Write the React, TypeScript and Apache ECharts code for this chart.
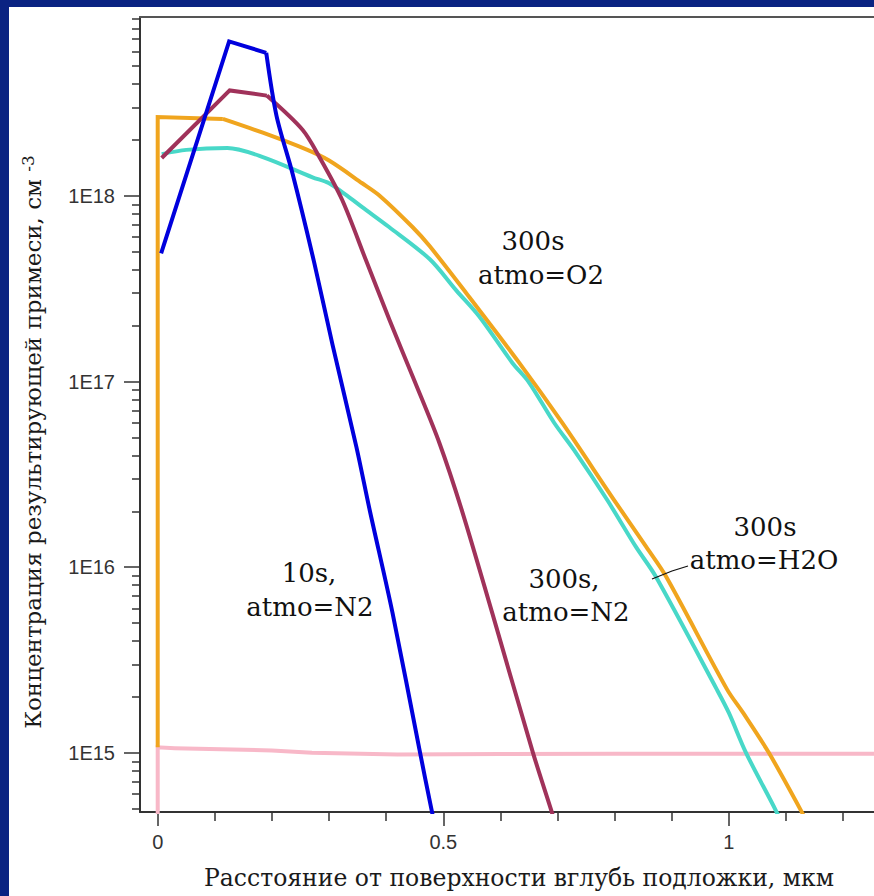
import React, { useEffect, useRef } from "react";
import * as echarts from "echarts";

// Axis ticks and labels
const xMinorTicks = [0.1, 0.2, 0.3, 0.4, 0.6, 0.7, 0.8, 0.9, 1.1, 1.2];
const xMajorTicks = [0, 0.5, 1];
const yMajorTicks = [1e15, 1e16, 1e17, 1e18];
const yMinorTicks = [
  5e14, 6e14, 7e14, 8e14, 9e14,
  2e15, 3e15, 4e15, 5e15, 6e15, 7e15, 8e15, 9e15,
  2e16, 3e16, 4e16, 5e16, 6e16, 7e16, 8e16, 9e16,
  2e17, 3e17, 4e17, 5e17, 6e17, 7e17, 8e17, 9e17,
  2e18, 3e18, 4e18, 5e18, 6e18, 7e18, 8e18, 9e18,
];

// 10s, atmo=N2 (blue); the first BLUE_HEAD points form a straight-segment peak
const blueX = [0.006, 0.125, 0.19, 0.208, 0.236, 0.274, 0.306, 0.348, 0.371, 0.411, 0.458, 0.479, 0.49];
const blueY = [4.9e17, 6.8e18, 5.9e18, 2.7e18, 1.32e18, 4.37e17, 1.58e17, 4.42e16, 2.04e16, 5.69e15, 1.05e15, 5.0e14, 3.5e14];
const BLUE_HEAD = 3;

// 300s, atmo=N2 (maroon)
const maroonX = [0.007, 0.126, 0.191, 0.2535, 0.283, 0.323, 0.365, 0.406, 0.45, 0.493, 0.533, 0.586, 0.657, 0.689, 0.7];
const maroonY = [1.6e18, 3.7e18, 3.47e18, 2.27e18, 1.62e18, 9.5e17, 4.47e17, 2.14e17, 1.0e17, 4.68e16, 2.0e16, 5.62e15, 1.0e15, 4.9e14, 3.8e14];
const MAROON_HEAD = 3;

// 300s, atmo=O2 (orange)
const orangeX = [0, 0, 0.114, 0.184, 0.26, 0.3, 0.358, 0.389, 0.446, 0.476, 0.54, 0.633, 0.708, 0.799, 0.855, 0.89, 0.997, 1.025, 1.07, 1.126, 1.14];
const orangeY = [1.07e15, 2.66e18, 2.6e18, 2.19e18, 1.78e18, 1.55e18, 1.17e18, 1.0e18, 6.8e17, 5.37e17, 3.0e17, 1.26e17, 6.0e16, 2.3e16, 1.29e16, 8.9e15, 2.19e15, 1.64e15, 1.0e15, 4.9e14, 4.0e14];
const ORANGE_HEAD = 3;

// 300s, atmo=H2O (cyan)
const cyanX = [0.007, 0.05, 0.122, 0.184, 0.271, 0.3, 0.332, 0.358, 0.405, 0.476, 0.523, 0.563, 0.621, 0.649, 0.694, 0.729, 0.787, 0.837, 0.872, 0.979, 1.0, 1.03, 1.082, 1.095];
const cyanY = [1.68e18, 1.77e18, 1.81e18, 1.62e18, 1.26e18, 1.17e18, 1.0e18, 8.7e17, 6.8e17, 4.57e17, 3.09e17, 2.24e17, 1.26e17, 1.0e17, 6.0e16, 4.27e16, 2.3e16, 1.29e16, 8.9e15, 2.19e15, 1.64e15, 1.0e15, 4.9e14, 4.0e14];

// substrate background (pink)
const pinkX = [0, 0, 0.03, 0.2, 0.27, 0.42, 0.6, 0.8, 1.3];
const pinkY = [1e14, 1.07e15, 1.06e15, 1.03e15, 1.0e15, 0.98e15, 0.985e15, 0.99e15, 0.99e15];

const zip = (xs: number[], ys: number[]) => xs.map((x, i) => [x, ys[i]]);

const SANS = "Liberation Sans";
const SERIF = "DejaVu Serif";

const X_MIN = -0.031;
const X_MAX = 1.254;
const Y_MIN = 4.8e14;
const Y_MAX = 9.2e18;

const AXIS_COLOR = "#333";

export default function App() {
  const ref = useRef<HTMLDivElement>(null);

  useEffect(() => {
    if (!ref.current) return;
    const chart = echarts.init(ref.current, null, { renderer: "svg" });

    const lineSeries = (name: string, data: number[][], color: string, smooth: boolean) => ({
      type: "line",
      name,
      data,
      xAxisIndex: 0,
      yAxisIndex: 0,
      symbol: "none",
      showSymbol: false,
      clip: true,
      smooth: smooth ? 0.3 : false,
      lineStyle: { color, width: 4, join: "miter" },
    });

    const split = (name: string, xs: number[], ys: number[], head: number, color: string) => {
      const pts = zip(xs, ys);
      return [
        lineSeries(name, pts.slice(0, head), color, false),
        lineSeries(name, pts.slice(head - 1), color, true),
      ];
    };

    const annot = (text: string, x: number, y: number) => ({
      type: "text",
      x,
      y,
      z: 100,
      style: {
        text,
        fill: "#111",
        fontSize: 26,
        fontFamily: SERIF,
        align: "center",
        verticalAlign: "middle",
      },
    });

    const option: any = {
      animation: false,
      backgroundColor: "#0a2382",
      grid: { left: 140, top: 17, right: 0, bottom: 84, containLabel: false },
      xAxis: [
        {
          type: "value",
          min: X_MIN,
          max: X_MAX,
          position: "bottom",
          name: "Расстояние от поверхности вглубь подложки, мкм",
          nameLocation: "middle",
          nameGap: 54,
          nameTextStyle: {
            fontFamily: SERIF,
            fontSize: 23.5,
            color: "#1a1a1a",
            padding: [0, 0, 0, 24],
          },
          axisLine: { show: true, onZero: false, lineStyle: { color: AXIS_COLOR, width: 2 } },
          axisTick: { show: true, customValues: xMinorTicks, length: 9, lineStyle: { color: AXIS_COLOR, width: 1.5 } },
          axisLabel: {
            customValues: xMajorTicks,
            formatter: (v: number) => String(v),
            fontFamily: SANS,
            fontSize: 20,
            color: AXIS_COLOR,
            margin: 20,
          },
          splitLine: { show: false },
        },
        {
          type: "value",
          min: X_MIN,
          max: X_MAX,
          position: "bottom",
          axisLine: { show: false, onZero: false },
          axisTick: { show: true, customValues: xMajorTicks, length: 14, lineStyle: { color: AXIS_COLOR, width: 1.5 } },
          axisLabel: { show: false },
          splitLine: { show: false },
        },
        {
          type: "value",
          min: X_MIN,
          max: X_MAX,
          position: "top",
          axisLine: { show: true, onZero: false, lineStyle: { color: "#555", width: 2 } },
          axisTick: { show: false },
          axisLabel: { show: false },
          splitLine: { show: false },
        },
      ],
      yAxis: [
        {
          type: "log",
          logBase: 10,
          min: Y_MIN,
          max: Y_MAX,
          position: "left",
          name: "Концентрация результирующей примеси, см {sup|-3}",
          nameLocation: "middle",
          nameRotate: 90,
          nameGap: 94,
          nameTextStyle: {
            fontFamily: SERIF,
            fontSize: 23,
            color: "#1a1a1a",
            padding: [0, 55, 0, 0],
            rich: {
              sup: { fontFamily: SERIF, fontSize: 17, color: "#1a1a1a", verticalAlign: "top", padding: [0, 0, 10, 0] },
            },
          },
          axisLine: { show: true, onZero: false, lineStyle: { color: AXIS_COLOR, width: 2 } },
          axisTick: { show: true, customValues: yMinorTicks, length: 8, lineStyle: { color: AXIS_COLOR, width: 1.5 } },
          axisLabel: {
            customValues: yMajorTicks,
            formatter: (v: number) => "1E" + Math.round(Math.log10(v)),
            fontFamily: SANS,
            fontSize: 20,
            color: AXIS_COLOR,
            margin: 25,
          },
          splitLine: { show: false },
          minorTick: { show: false },
        },
        {
          type: "log",
          logBase: 10,
          min: Y_MIN,
          max: Y_MAX,
          position: "left",
          axisLine: { show: false, onZero: false },
          axisTick: { show: true, customValues: yMajorTicks, length: 16, lineStyle: { color: AXIS_COLOR, width: 1.5 } },
          axisLabel: { show: false },
          splitLine: { show: false },
        },
      ],
      graphic: [
        {
          type: "rect",
          z: -100,
          silent: true,
          shape: { x: 9, y: 7, width: 865, height: 889 },
          style: { fill: "#ffffff" },
        },
        annot("300s", 533, 241),
        annot("atmo=O2", 541, 275),
        annot("10s,", 309, 573),
        annot("atmo=N2", 310, 607),
        annot("300s,", 564, 579),
        annot("atmo=N2", 566, 612),
        annot("300s", 765, 527),
        annot("atmo=H2O", 764, 560),
        {
          type: "polyline",
          z: 100,
          shape: { points: [[652, 579], [672, 571], [688, 566]] },
          style: { stroke: "#111", lineWidth: 1.3, fill: null },
        },
      ],
      series: [
        lineSeries("substrate", zip(pinkX, pinkY), "#f8b8c8", false),
        lineSeries("300s, atmo=H2O", zip(cyanX, cyanY), "#48d8c8", true),
        ...split("300s, atmo=O2", orangeX, orangeY, ORANGE_HEAD, "#f0a51e"),
        ...split("300s, atmo=N2", maroonX, maroonY, MAROON_HEAD, "#a0325a"),
        ...split("10s, atmo=N2", blueX, blueY, BLUE_HEAD, "#0000dd"),
      ],
    };

    chart.setOption(option);
    return () => chart.dispose();
  }, []);

  return (
    <div
      ref={ref}
      style={{ position: "absolute", left: 0, top: 0, width: 874, height: 896 }}
    />
  );
}
